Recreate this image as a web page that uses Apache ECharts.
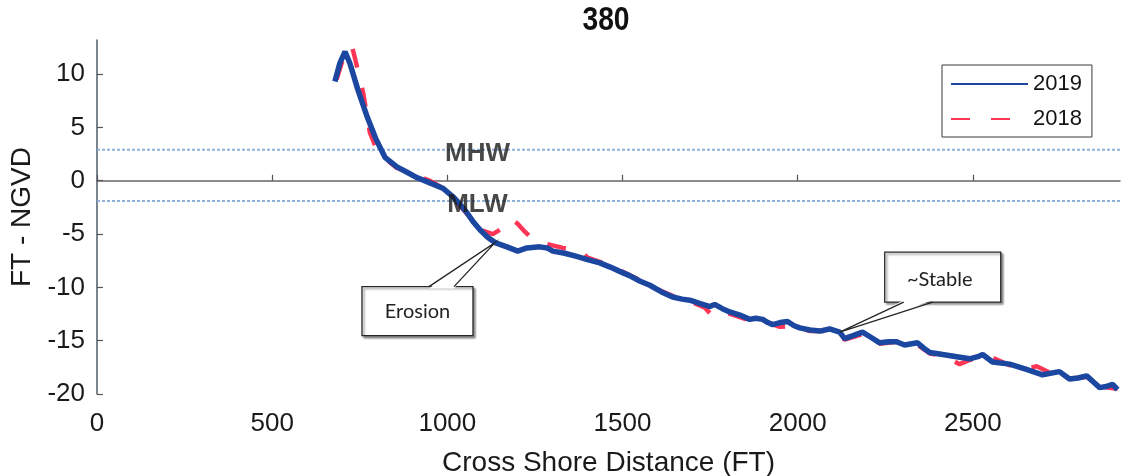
<!DOCTYPE html>
<html>
<head>
<meta charset="utf-8">
<title>380</title>
<script src="https://cdn.jsdelivr.net/npm/echarts@6/dist/echarts.min.js"></script>
<style>
  html, body { margin: 0; padding: 0; background: #ffffff; }
  #chart { width: 1128px; height: 476px; }
</style>
</head>
<body>
<div id="chart"></div>
<script>
// Beach profile 380: elevation (FT NGVD) against cross shore distance (FT)
const profile2019 = [
  [679, 9.3], [693, 11.0], [708, 12.1], [722, 11.0], [745, 8.5], [770, 6.1], [795, 4.0],
  [822, 2.2], [856, 1.3], [885, 0.8], [913, 0.3], [950, -0.2], [987, -0.7], [1016, -1.5],
  [1036, -2.2], [1056, -3.0], [1075, -3.9], [1093, -4.6], [1115, -5.3], [1136, -5.8],
  [1170, -6.2], [1201, -6.6], [1227, -6.3], [1264, -6.2], [1285, -6.3], [1301, -6.6],
  [1335, -6.8], [1369, -7.1], [1400, -7.4], [1435, -7.7], [1465, -8.1], [1492, -8.5],
  [1520, -8.9], [1549, -9.4], [1578, -9.8], [1610, -10.4], [1643, -10.9], [1670, -11.1],
  [1692, -11.2], [1720, -11.5], [1749, -11.8], [1763, -11.6], [1785, -12.0], [1806, -12.3],
  [1835, -12.6], [1863, -13.0], [1880, -12.9], [1900, -13.0], [1915, -13.3], [1929, -13.5],
  [1950, -13.3], [1971, -13.2], [1990, -13.6], [2006, -13.8], [2035, -14.0], [2063, -14.1],
  [2091, -13.9], [2120, -14.2], [2134, -14.8], [2160, -14.5], [2185, -14.2], [2210, -14.7],
  [2234, -15.2], [2260, -15.1], [2282, -15.1], [2305, -15.4], [2342, -15.2], [2360, -15.7],
  [2377, -16.1], [2414, -16.3], [2454, -16.5], [2491, -16.7], [2514, -16.5], [2528, -16.3],
  [2556, -17.0], [2605, -17.2], [2653, -17.7], [2699, -18.2], [2747, -17.9], [2776, -18.6],
  [2800, -18.5], [2825, -18.3], [2845, -18.9], [2862, -19.4], [2880, -19.3], [2899, -19.1],
  [2913, -19.6]
];

const profile2018 = [
  [684, 9.5], [700, 11.2], [713, 12.2], [728, 12.6], [740, 11.0], [760, 8.2], [779, 4.5],
  [800, 2.8], [822, 2.1], [856, 1.2], [890, 0.8], [913, 0.5], [950, 0.0], [987, -0.7],
  [1016, -1.6], [1056, -3.1], [1093, -4.6], [1130, -5.0], [1160, -4.4], [1180, -3.6],
  [1200, -4.0], [1222, -4.8], [1244, -5.5], [1280, -5.9], [1330, -6.3], [1378, -6.5],
  [1400, -7.2], [1435, -7.6], [1492, -8.4], [1549, -9.3], [1578, -9.9], [1643, -10.8],
  [1692, -11.3], [1735, -11.9], [1757, -12.7], [1790, -12.3], [1835, -12.8], [1863, -13.1],
  [1900, -13.1], [1949, -13.7], [1990, -13.6], [2035, -14.1], [2091, -14.1], [2134, -14.9],
  [2185, -14.4], [2234, -15.3], [2282, -15.1], [2342, -15.4], [2377, -16.2], [2414, -16.4],
  [2462, -17.2], [2491, -16.8], [2556, -16.6], [2605, -17.3], [2653, -17.6], [2682, -17.4],
  [2720, -18.0], [2767, -18.6], [2825, -18.4], [2862, -19.3], [2913, -19.5]
];

const xTicks = [0, 500, 1000, 1500, 2000, 2500];
const yTicks = [-20, -15, -10, -5, 0, 5, 10];

// Tidal datums
const tideNames = ['MHW', 'MLW'];
const tideElevations = [2.9, -1.9];

// Callout notes and the profile points they point at
const noteTexts = ['Erosion', '~Stable'];
const notePoints = [[1136, -5.8], [2120, -14.2]];

const titleText = '380';

const X_MAX = 2920;
const Y_MIN = -20;
const Y_MAX = 13.2;
const FONT = '"Liberation Sans", Arial, sans-serif';

const chart = echarts.init(document.getElementById('chart'), null, { renderer: 'canvas' });

const tideLineSeries = tideElevations.map((v, i) => ({
  name: tideNames[i] + ' line',
  type: 'line',
  data: [[0, v], [X_MAX, v]],
  symbol: 'none',
  silent: true,
  z: 1,
  lineStyle: { color: '#8db0da', width: 2, type: [3, 2] }
}));

const tideLabelSeries = {
  name: 'datum labels',
  type: 'scatter',
  symbolSize: 1,
  silent: true,
  z: 5,
  itemStyle: { color: 'rgba(0,0,0,0)' },
  data: tideElevations.map((v, i) => ({ name: tideNames[i], value: [1086, v] })),
  label: {
    show: true,
    formatter: p => p.name,
    position: 'inside',
    fontFamily: FONT,
    fontSize: 26,
    fontWeight: 'bold',
    color: '#1a1a1a',
    textBorderWidth: 0,
    offset: [0, 4]
  }
};

const option = {
  animation: false,
  backgroundColor: '#ffffff',
  grid: { left: 97, right: 8, top: 40, bottom: 82, containLabel: false, outerBoundsMode: 'none' },
  legend: {
    data: ['2019', '2018'],
    orient: 'vertical',
    left: 942,
    top: 65,
    backgroundColor: '#ffffff',
    borderColor: '#3a3a3a',
    borderWidth: 1,
    padding: [8, 10, 7, 8],
    itemGap: 13,
    itemWidth: 77,
    itemHeight: 14,
    selectedMode: false,
    itemStyle: { color: 'rgba(0,0,0,0)', borderWidth: 0, opacity: 0 },
    textStyle: { fontFamily: FONT, fontSize: 22, color: '#141414' }
  },
  xAxis: {
    type: 'value',
    min: 0,
    max: X_MAX,
    interval: 500,
    name: 'Cross Shore Distance (FT)',
    nameLocation: 'middle',
    nameGap: 55,
    nameTextStyle: { fontFamily: FONT, fontSize: 28, color: '#1a1a1a' },
    axisLine: { show: true, lineStyle: { color: '#666', width: 1.5 } },
    axisTick: { show: true, inside: true, length: 6, customValues: xTicks, lineStyle: { color: '#555', width: 1.2 } },
    axisLabel: {
      customValues: xTicks, margin: 17, fontFamily: FONT, fontSize: 26, color: '#1a1a1a',
      formatter: v => String(v)
    },
    splitLine: { show: false }
  },
  yAxis: {
    type: 'value',
    min: Y_MIN,
    max: Y_MAX,
    interval: 5,
    name: 'FT - NGVD',
    nameLocation: 'middle',
    nameGap: 52,
    nameTextStyle: { fontFamily: FONT, fontSize: 28, color: '#1a1a1a' },
    axisLine: { show: true, lineStyle: { color: '#4f5a6a', width: 1.5 } },
    axisTick: { show: true, inside: true, length: 6, customValues: yTicks, lineStyle: { color: '#555', width: 1.2 } },
    axisLabel: {
      customValues: yTicks, margin: 12, fontFamily: FONT, fontSize: 26, color: '#1a1a1a',
      formatter: v => String(v)
    },
    splitLine: { show: false }
  },
  series: [
    ...tideLineSeries,
    {
      name: '2018',
      type: 'line',
      data: profile2018,
      symbol: 'none',
      z: 3,
      lineStyle: { color: '#ff3556', width: 4.5, type: [19, 21] },
      itemStyle: { color: '#ff3556' }
    },
    {
      name: '2019',
      type: 'line',
      data: profile2019,
      symbol: 'none',
      z: 4,
      lineStyle: { color: '#1c47a0', width: 5.5 },
      itemStyle: { color: '#1c47a0' }
    },
    tideLabelSeries
  ]
};

chart.setOption(option);

// Condensed bold heading plus callout boxes with wedge pointers, anchored to profile points
function buildGraphics() {
  const [ex, ey] = chart.convertToPixel({ gridIndex: 0 }, notePoints[0]);
  const [sx, sy] = chart.convertToPixel({ gridIndex: 0 }, notePoints[1]);
  const boxStyle = {
    fill: '#ffffff', stroke: '#262626', lineWidth: 1.3,
    shadowColor: 'rgba(0,0,0,0.4)', shadowOffsetX: 2, shadowOffsetY: 2, shadowBlur: 2
  };
  const edge = { stroke: '#262626', lineWidth: 1.3, fill: null };
  const textStyle = (t) => ({
    text: t, fontFamily: 'Lato, "Open Sans", sans-serif', fontSize: 20, fill: '#222',
    align: 'center', verticalAlign: 'middle'
  });
  return [
    {
      type: 'text', z: 110, x: 606, y: 21, scaleX: 0.83,
      style: {
        text: titleText, fontFamily: FONT, fontWeight: 'bold', fontSize: 34, fill: '#111',
        align: 'center', verticalAlign: 'middle'
      }
    },

    { type: 'rect', z: 100, shape: { x: ex - 133, y: ey + 44, width: 111, height: 49 }, style: boxStyle },
    { type: 'polygon', z: 101, shape: { points: [[ex - 66, ey + 46], [ex - 41, ey + 46], [ex, ey]] }, style: { fill: '#ffffff' } },
    { type: 'polyline', z: 102, shape: { points: [[ex - 66, ey + 44], [ex, ey], [ex - 41, ey + 44]] }, style: edge },
    { type: 'text', z: 103, x: ex - 77.5, y: ey + 68.5, style: textStyle(noteTexts[0]) },

    { type: 'rect', z: 100, shape: { x: sx + 45, y: sy - 80, width: 116, height: 50 }, style: boxStyle },
    { type: 'polygon', z: 101, shape: { points: [[sx + 64, sy - 32], [sx + 93, sy - 32], [sx, sy]] }, style: { fill: '#ffffff' } },
    { type: 'polyline', z: 102, shape: { points: [[sx + 64, sy - 30], [sx, sy], [sx + 93, sy - 30]] }, style: edge },
    { type: 'text', z: 103, x: sx + 100, y: sy - 53, style: textStyle(noteTexts[1]) }
  ];
}

chart.setOption({ graphic: buildGraphics() });
</script>
</body>
</html>
